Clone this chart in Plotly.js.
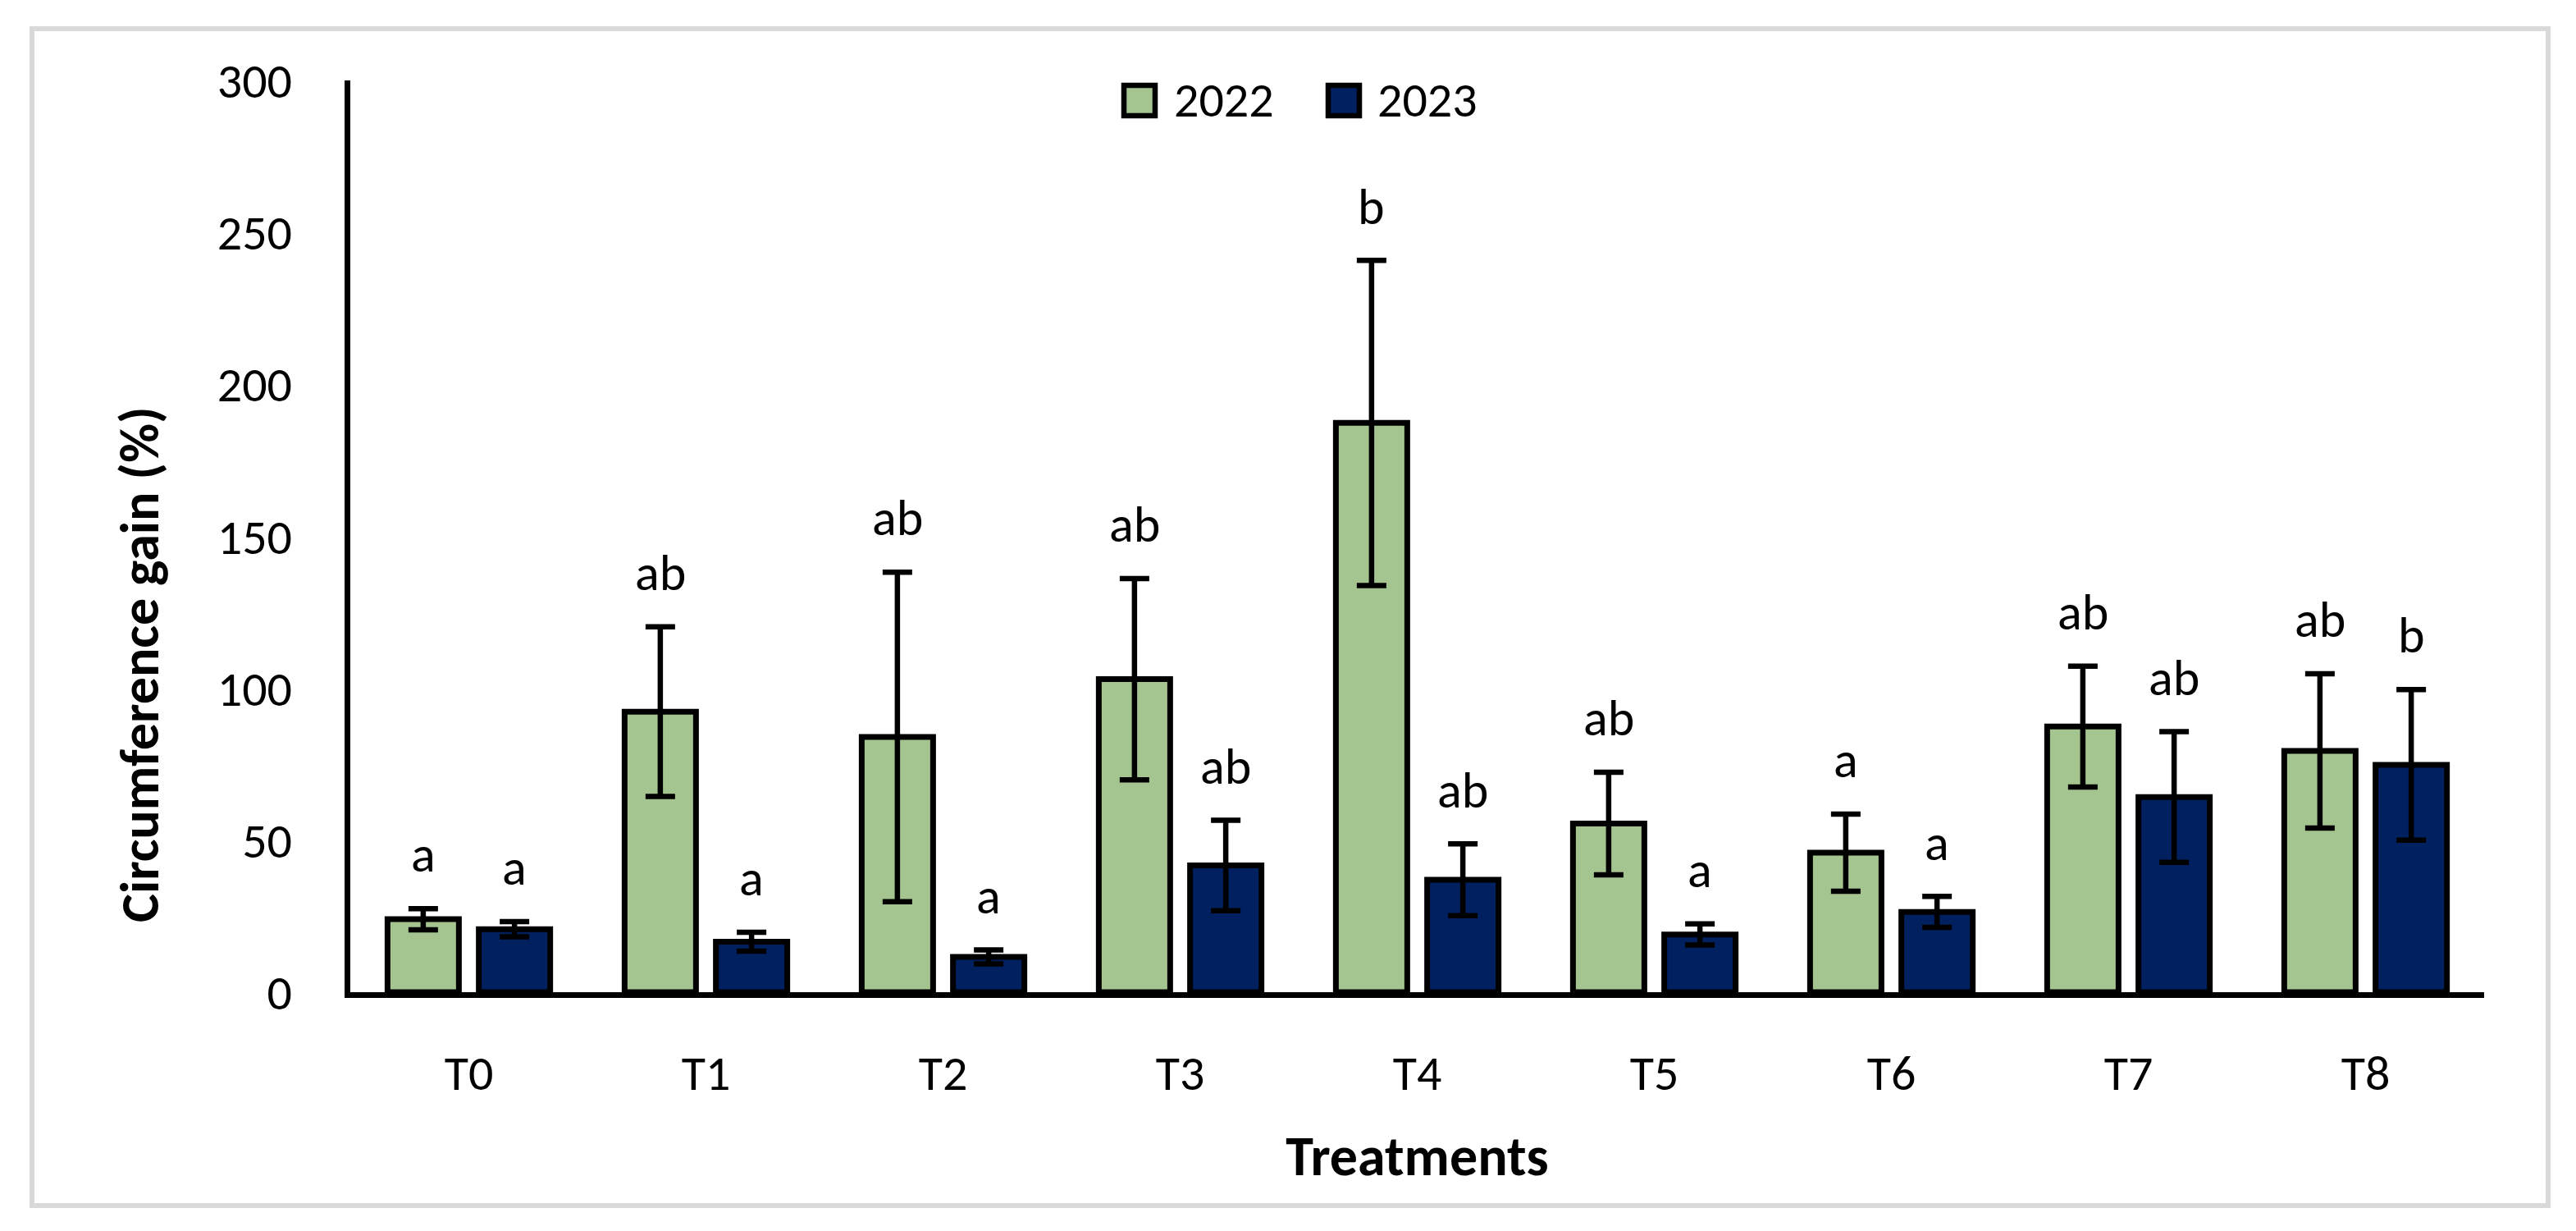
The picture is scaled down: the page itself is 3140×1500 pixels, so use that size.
<!DOCTYPE html>
<html>
<head>
<meta charset="utf-8">
<script src="https://cdn.plot.ly/plotly-3.0.1.min.js"></script>
<style>html,body{margin:0;padding:0;background:#fff;}</style>
</head>
<body>
<div id="chart" style="width:3140px;height:1500px;"></div>
<script>
// ---- data ----
const treatments = ['T0', 'T1', 'T2', 'T3', 'T4', 'T5', 'T6', 'T7', 'T8'];
const seriesNames = ['2022', '2023'];
const gain2022 = [24.0, 92.3, 84.0, 103.0, 187.3, 55.5, 45.9, 87.4, 79.4];
const err2022  = [3.5, 27.9, 54.2, 33.1, 53.5, 16.9, 12.7, 19.9, 25.4];
const gain2023 = [20.7, 16.6, 11.6, 41.7, 37.0, 19.0, 26.4, 64.2, 74.8];
const err2023  = [2.5, 3.1, 2.3, 14.9, 11.8, 3.5, 5.1, 21.5, 24.8];
const letters2022 = ['a', 'ab', 'ab', 'ab', 'b', 'ab', 'a', 'ab', 'ab'];
const letters2023 = ['a', 'a', 'a', 'ab', 'ab', 'a', 'a', 'ab', 'b'];
const yTickVals = [0, 50, 100, 150, 200, 250, 300];

// ---- styling / layout ----
const W = 3140, H = 1500;
const M = {l: 427, r: 112, t: 98, b: 291};
const plotW = W - M.l - M.r, plotH = H - M.t - M.b;
const px2x = p => (p - M.l) / plotW;
const px2y = p => 1 - (p - M.t) / plotH;
const FONT = 'Carlito, Lato, sans-serif';
const GREEN = '#A4C490', NAVY = '#002060';
const BARGAP = 0.23, GROUPGAP = 0.218;
const catW = plotW / treatments.length;
const slotOffset = catW * (1 - BARGAP) / 4;
const letterGap = 11;

function barTrace(name, y, err, color) {
  return {
    type: 'bar', name: name, x: treatments, y: y,
    marker: {color: color, line: {color: '#000', width: 7}},
    error_y: {type: 'data', array: err, visible: true, color: '#000', thickness: 6.5, width: 18},
    showlegend: false, hoverinfo: 'x+y'
  };
}

const data = [
  barTrace(seriesNames[0], gain2022, err2022, GREEN),
  barTrace(seriesNames[1], gain2023, err2023, NAVY)
];

const annotations = [];
function addLetters(letters, vals, errs, shift) {
  letters.forEach((t, i) => {
    annotations.push({
      x: treatments[i], y: vals[i] + errs[i] + letterGap, xref: 'x', yref: 'y',
      text: t, showarrow: false, xanchor: 'center', yanchor: 'bottom',
      xshift: shift, yshift: -15,
      font: {family: FONT, size: 62, color: '#000'}
    });
  });
}
addLetters(letters2022, gain2022, err2022, -slotOffset);
addLetters(letters2023, gain2023, err2023, slotOffset);

// y-axis title
annotations.push({
  x: px2x(170), y: px2y(810), xref: 'paper', yref: 'paper',
  text: '<b>Circumference gain (%)</b>', textangle: -90, showarrow: false,
  xanchor: 'center', yanchor: 'middle',
  font: {family: FONT, size: 66, color: '#000'}
});

// legend (manual, sized like the reference)
const legendItems = [
  {name: seriesNames[0], color: GREEN, x0: 1370, x1: 1408, tx: 1429},
  {name: seriesNames[1], color: NAVY, x0: 1619, x1: 1657, tx: 1677}
];
const shapes = [
  {type: 'rect', xref: 'paper', yref: 'paper', x0: px2x(39), x1: px2x(3106), y0: px2y(35), y1: px2y(1469),
   line: {color: '#D9D9D9', width: 6}, fillcolor: 'rgba(0,0,0,0)', layer: 'below'}
];
legendItems.forEach(it => {
  shapes.push({type: 'rect', xref: 'paper', yref: 'paper', x0: px2x(it.x0), x1: px2x(it.x1),
    y0: px2y(104), y1: px2y(141), line: {color: '#000', width: 6.5}, fillcolor: it.color});
  annotations.push({x: px2x(it.tx), y: px2y(121), xref: 'paper', yref: 'paper', text: it.name,
    showarrow: false, xanchor: 'left', yanchor: 'middle',
    font: {family: FONT, size: 60, color: '#000'}});
});

const layout = {
  width: W, height: H,
  margin: M,
  paper_bgcolor: '#fff', plot_bgcolor: '#fff',
  barmode: 'group', bargap: BARGAP, bargroupgap: GROUPGAP,
  showlegend: false,
  font: {family: FONT, color: '#000'},
  xaxis: {
    type: 'category', showline: true, linecolor: '#000', linewidth: 7,
    showgrid: false, zeroline: false, ticks: '',
    tickfont: {family: FONT, size: 60, color: '#000'},
    ticklabelstandoff: 40,
    title: {text: '<b>Treatments</b>', font: {family: FONT, size: 68, color: '#000'}, standoff: 44}
  },
  yaxis: {
    range: [0, 300], tickvals: yTickVals, showline: true, linecolor: '#000', linewidth: 7,
    showgrid: false, zeroline: false, ticks: '',
    tickfont: {family: FONT, size: 60, color: '#000'},
    ticklabelstandoff: 52
  },
  annotations: annotations,
  shapes: shapes
};

Plotly.newPlot('chart', data, layout, {staticPlot: true, displayModeBar: false});
</script>
</body>
</html>
